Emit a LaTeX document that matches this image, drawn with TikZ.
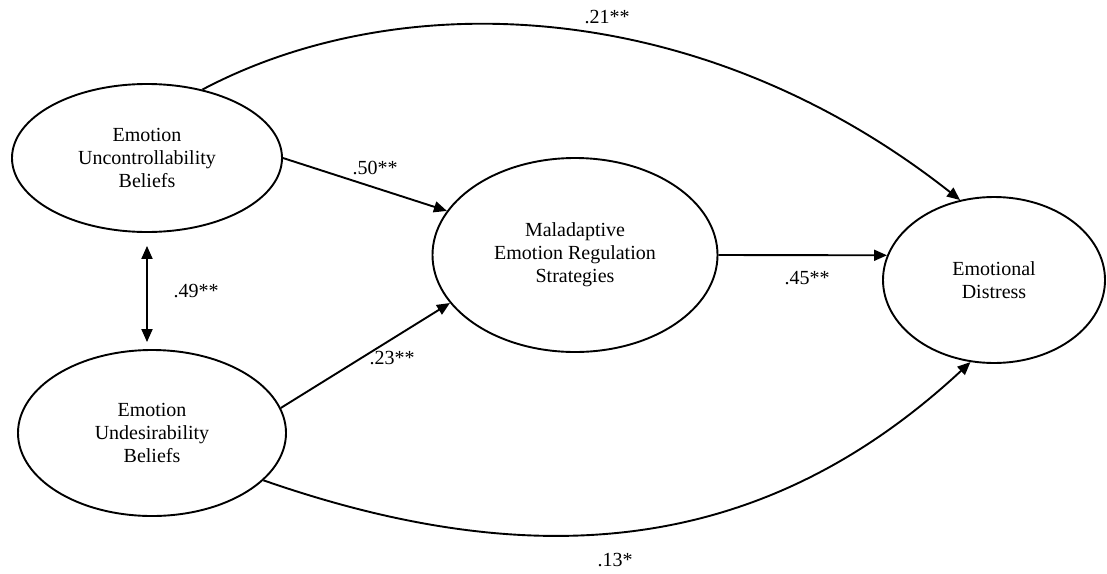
\documentclass[tikz,border=0pt]{standalone}
\usepackage{fontspec}
\setmainfont{Liberation Serif}
\usetikzlibrary{shapes.geometric,arrows.meta}
\begin{document}
\begin{tikzpicture}[x=1pt,y=-1pt,
  latent/.style={ellipse,draw,line width=1.9pt,inner sep=0pt,align=center,font=\fontsize{20}{23}\selectfont},
  pathedge/.style={line width=1.9pt,-{Triangle[length=13pt,width=11pt]}},
  dbledge/.style={line width=1.9pt,{Triangle[length=13pt,width=11pt]}-{Triangle[length=13pt,width=11pt]}},
  coef/.style={font=\fontsize{20}{23}\selectfont,inner sep=0pt}]
\useasboundingbox (0,0) rectangle (1107,573);
\fill[white] (0,0) rectangle (1107,573);

\node[latent,minimum width=270pt,minimum height=148pt] (U) at (147,158) {Emotion\\Uncontrollability\\Beliefs};
\node[latent,minimum width=268pt,minimum height=166pt] (Ud) at (152,433) {Emotion\\Undesirability\\Beliefs};
\node[latent,minimum width=285pt,minimum height=194pt] (M) at (575,255) {Maladaptive\\Emotion Regulation\\Strategies};
\node[latent,minimum width=222pt,minimum height=166pt] (D) at (994,280) {Emotional\\Distress};

\draw[pathedge] (U.51) .. controls (400,-15) and (700,-5) .. (D.113);
\draw[pathedge] (U.0) -- (M.161);
\draw[pathedge] (Ud.11) -- (M.201);
\draw[pathedge] (M.0) -- (D.167);
\draw[pathedge] (Ud.337) .. controls (541,577) and (766,552) .. (D.254);
\draw[dbledge] ([yshift=-13pt]U.south) -- ([yshift=7pt]U.south |- Ud.north);

\node[coef] (l21) at (607,17) {.21**};
\node[coef] (l50) at (375,168) {.50**};
\node[coef] (l23) at (392,358) {.23**};
\node[coef] (l45) at (807,278) {.45**};
\node[coef] (l49) at (196,291) {.49**};
\node[coef] (l13) at (615,560) {.13*};
\end{tikzpicture}
\end{document}
